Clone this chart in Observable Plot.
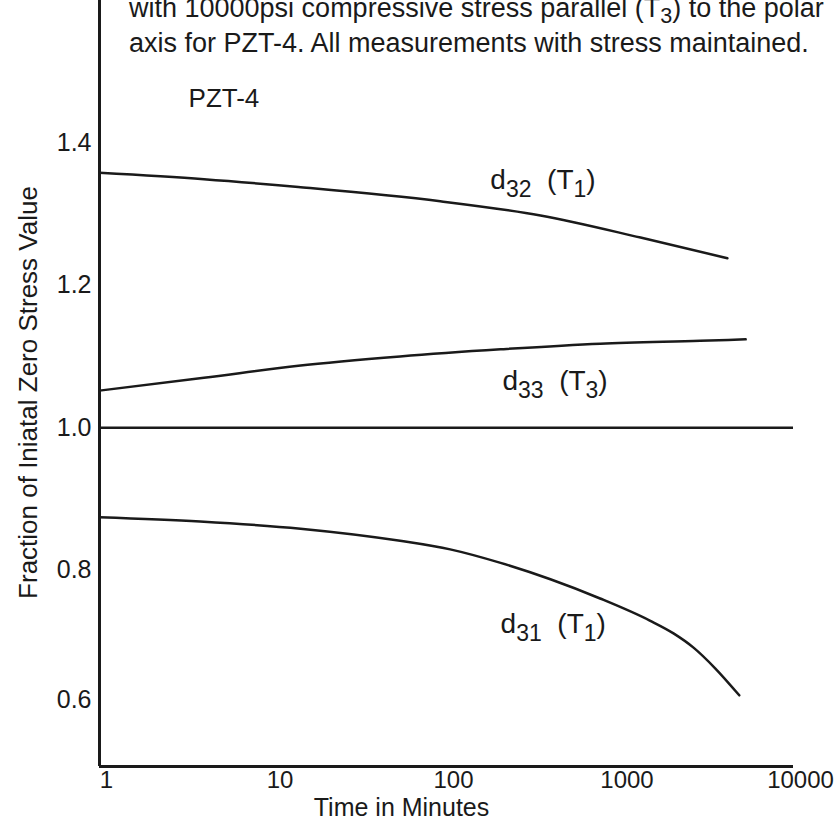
<!DOCTYPE html>
<html>
<head>
<meta charset="utf-8">
<script src="https://cdn.jsdelivr.net/npm/d3@7"></script>
<script src="https://cdn.jsdelivr.net/npm/@observablehq/plot@0.6"></script>
<style>
  body { margin: 0; background: #fff; }
  #wrap { position: relative; width: 839px; height: 823px; overflow: hidden; font-family: "Liberation Sans", Arial, sans-serif; color: #1a1a1a; }
  #title { position: absolute; left: 129px; top: -9px; font-size: 27px; line-height: 35px; z-index: 2; white-space: nowrap; }
  #title sub { font-size: 0.8em; vertical-align: -0.3em; line-height: 0; }
  #chart { position: absolute; left: 0; top: 0; }
</style>
</head>
<body>
<div id="wrap">
  <div id="title">with 10000psi compressive stress parallel (T<sub>3</sub>) to the polar<br>axis for PZT-4. All measurements with stress maintained.</div>
  <div id="chart"></div>
</div>
<script>
// ---- data (time in minutes, fraction of initial zero-stress value) ----
const d32Times = [1, 4, 14, 92, 348, 1313, 4160];
const d32Values = [1.358, 1.349, 1.338, 1.318, 1.298, 1.267, 1.238];

const d33Times = [1, 4, 14, 54, 205, 770, 2900, 5300];
const d33Values = [1.052, 1.070, 1.087, 1.100, 1.110, 1.118, 1.122, 1.124];

const d31Times = [1, 3.8, 14.4, 54, 105, 205, 397, 768, 1485, 2034, 2653, 3536, 4870];
const d31Values = [0.874, 0.868, 0.858, 0.841, 0.829, 0.810, 0.787, 0.760, 0.729, 0.711, 0.691, 0.662, 0.624];

const referenceLevel = [1.0];

const xTicks = [1, 10, 100, 1000, 10000];
const yTicks = [0.8, 1.0, 1.2, 1.4];
const yTickLow = [0.6];
const xDomain = [1, 10000];
const yDomain = [0.524, 1.6];

const curveLabels = ["d_{32}  (T_{1})", "d_{33}  (T_{3})", "d_{31}  (T_{1})", "PZT-4"];
const curveLabelTimes = [179, 210, 205, 3.26];
const curveLabelValues = [1.335, 1.053, 0.712, 1.451];

const xTitle = "Time in Minutes";
const yTitle = "Fraction of Iniatal Zero Stress Value";

// ---- build ----
const toRows = (ts, vs) => ts.map((t, i) => ({t, v: vs[i]}));
const series = [toRows(d32Times, d32Values), toRows(d33Times, d33Values), toRows(d31Times, d31Values)];
const labels = curveLabels.map((s, i) => ({s, t: curveLabelTimes[i], v: curveLabelValues[i]}));

const ink = "#1a1a1a";
const font = "'Liberation Sans', Arial, sans-serif";

const chart = Plot.plot({
  width: 839,
  height: 823,
  marginLeft: 99,
  marginRight: 46,
  marginTop: 0,
  marginBottom: 57,
  style: {fontFamily: font, color: ink, background: "transparent"},
  x: {type: "log", domain: xDomain, axis: null},
  y: {domain: yDomain, axis: null},
  marks: [
    Plot.axisX(xTicks, {tickSize: 0, tickPadding: 4, fontSize: 24, dx: 7, tickFormat: d => String(d), label: null, fill: ink}),
    Plot.axisY(yTicks, {tickSize: 0, tickPadding: 8, fontSize: 25, tickFormat: d => d.toFixed(1), label: null, fill: ink}),
    Plot.axisY(yTickLow, {tickSize: 0, tickPadding: 8, fontSize: 25, dy: -12, tickFormat: d => d.toFixed(1), label: null, fill: ink}),
    Plot.text([xTitle], {frameAnchor: "bottom", textAnchor: "middle", lineAnchor: "middle", dx: -45, dy: 41, fontSize: 25, fill: ink}),
    Plot.text([yTitle], {frameAnchor: "left", textAnchor: "middle", rotate: -90, dx: -71, dy: 9, fontSize: 26, fill: ink}),
    Plot.ruleY(referenceLevel, {stroke: ink, strokeWidth: 2.5}),
    ...series.map(rows => Plot.line(rows, {x: "t", y: "v", curve: "monotone-x", stroke: ink, strokeWidth: 2.5})),
    Plot.ruleX([xDomain[0]], {stroke: ink, strokeWidth: 3}),
    Plot.ruleY([yDomain[0]], {stroke: ink, strokeWidth: 3}),
    Plot.text(labels, {x: "t", y: "v", text: "s", textAnchor: "start", lineAnchor: "bottom", fontSize: d => d.s.includes("_{") ? 28 : 26, fill: ink})
  ]
});

// subscripts as tspans
chart.querySelectorAll("text").forEach(el => {
  const txt = el.textContent;
  if (!txt.includes("_{")) return;
  el.textContent = "";
  el.setAttribute("style", (el.getAttribute("style") || "") + ";white-space:pre");
  const parts = txt.split(/(_\{[^}]*\})/);
  let sub = false;
  parts.forEach(p => {
    if (!p) return;
    const ts = document.createElementNS("http://www.w3.org/2000/svg", "tspan");
    if (p.startsWith("_{")) {
      ts.textContent = p.slice(2, -1);
      ts.setAttribute("font-size", "23");
      ts.setAttribute("dy", "8");
      sub = true;
    } else {
      ts.textContent = p;
      if (sub) { ts.setAttribute("dy", "-8"); sub = false; }
    }
    el.appendChild(ts);
  });
});

document.getElementById("chart").appendChild(chart);
</script>
</body>
</html>
